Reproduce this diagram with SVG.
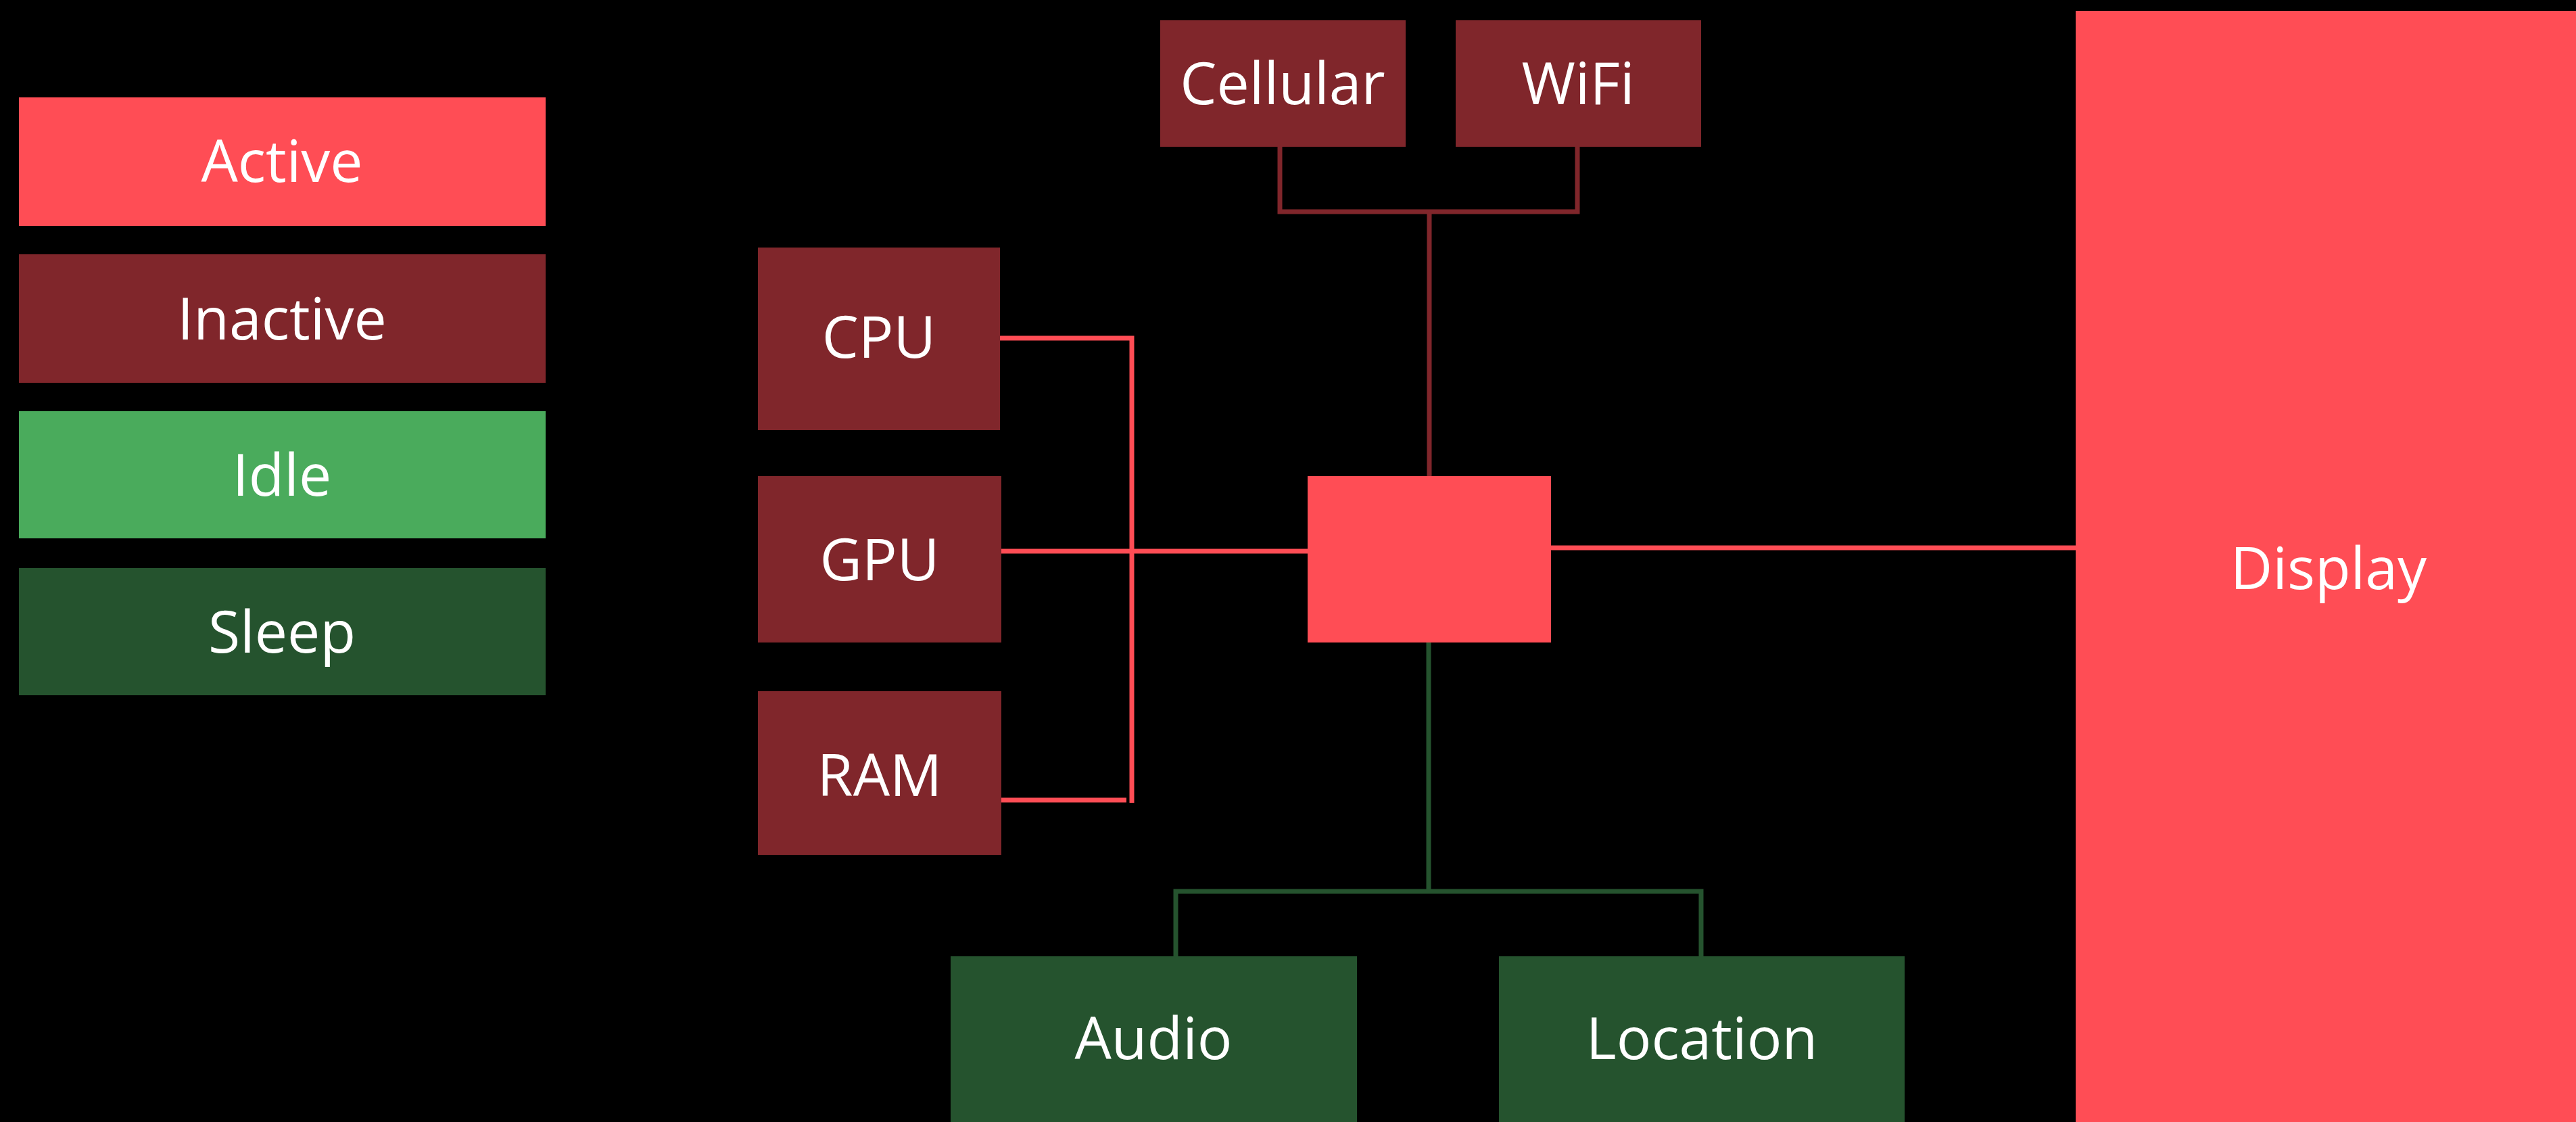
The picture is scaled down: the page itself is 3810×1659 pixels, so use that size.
<svg xmlns="http://www.w3.org/2000/svg" width="3810" height="1659" viewBox="0 0 3810 1659">
<style>
.active{fill:#FF4D55}
.inactive{fill:#80262B}
.idle{fill:#4AAB5C}
.sleep{fill:#25532E}
.lbl{font-family:"Open Sans","Noto Sans",sans-serif;font-size:86px;fill:#FFFFFF;text-anchor:middle}
.c-red{stroke:#FF4D55;stroke-width:7;fill:none}
.c-dred{stroke:#80262B;stroke-width:7;fill:none}
.c-green{stroke:#25532E;stroke-width:7;fill:none}
</style>
<rect x="0" y="0" width="3810" height="1659" fill="#000000"/>
<g id="connectors">
<path class="c-dred" d="M1893 217 V313 H2333 V217"/>
<path class="c-dred" d="M2114 313 V704"/>
<path class="c-red" d="M1479 500 H1674 V1187"/>
<path class="c-red" d="M1481 1183 H1666"/>
<path class="c-red" d="M1481 815 H1934"/>
<path class="c-red" d="M2294 810 H3070"/>
<path class="c-green" d="M2113 950 V1318"/>
<path class="c-green" d="M1739 1414 V1318 H2516 V1414"/>
</g>
<g id="legend-active"><rect class="active" x="28" y="144" width="779" height="190"/><text class="lbl" x="417" y="269">Active</text></g>
<g id="legend-inactive"><rect class="inactive" x="28" y="376" width="779" height="190"/><text class="lbl" x="417" y="502">Inactive</text></g>
<g id="legend-idle"><rect class="idle" x="28" y="608" width="779" height="188"/><text class="lbl" x="417" y="733">Idle</text></g>
<g id="legend-sleep"><rect class="sleep" x="28" y="840" width="779" height="188"/><text class="lbl" x="417" y="965">Sleep</text></g>
<g id="cellular"><rect class="inactive" x="1716" y="30" width="363" height="187"/><text class="lbl" x="1897" y="154">Cellular</text></g>
<g id="wifi"><rect class="inactive" x="2153" y="30" width="363" height="187"/><text class="lbl" x="2334" y="154">WiFi</text></g>
<g id="cpu"><rect class="inactive" x="1121" y="366" width="358" height="270"/><text class="lbl" x="1300" y="529">CPU</text></g>
<g id="gpu"><rect class="inactive" x="1121" y="704" width="360" height="246"/><text class="lbl" x="1301" y="858">GPU</text></g>
<g id="ram"><rect class="inactive" x="1121" y="1022" width="360" height="242"/><text class="lbl" x="1301" y="1177">RAM</text></g>
<g id="hub"><rect class="active" x="1934" y="704" width="360" height="246"/></g>
<g id="display"><rect class="active" x="3070" y="16" width="740" height="1643"/><text class="lbl" x="3444" y="871">Display</text></g>
<g id="audio"><rect class="sleep" x="1406" y="1414" width="601" height="245"/><text class="lbl" x="1706" y="1566">Audio</text></g>
<g id="location"><rect class="sleep" x="2217" y="1414" width="600" height="245"/><text class="lbl" x="2517" y="1566">Location</text></g>
</svg>
